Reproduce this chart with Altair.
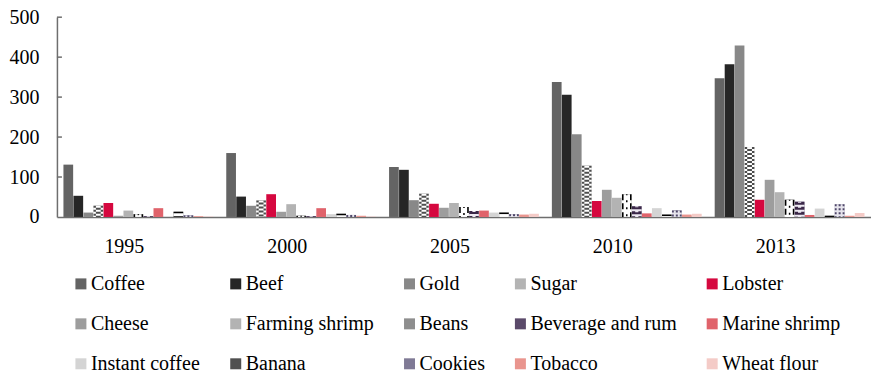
import altair as alt
import pandas as pd

# Export values (millions) by product and year
years = ["1995", "2000", "2005", "2010", "2013"]
products = ["Coffee", "Beef", "Gold", "Sugar", "Lobster",
            "Cheese", "Farming shrimp", "Beans", "Beverage and rum", "Marine shrimp",
            "Instant coffee", "Banana", "Cookies", "Tobacco", "Wheat flour"]

v1995 = [131, 53, 11, 28, 35, 3, 16, 7, 2, 22, 0, 13, 4, 2, 1]
v2000 = [160, 51, 28, 41, 57, 13, 32, 3, 2, 22, 7, 8, 5, 3, 1]
v2005 = [125, 118, 42, 58, 33, 23, 35, 25, 15, 16, 11, 11, 7, 6, 8]
v2010 = [338, 306, 207, 128, 40, 68, 48, 57, 27, 9, 22, 6, 16, 6, 8]
v2013 = [347, 382, 429, 175, 43, 93, 62, 43, 38, 5, 21, 3, 32, 3, 10]

y_ticks = [0, 100, 200, 300, 400, 500]

colors = ["#646464", "#262626", "#888888", "#b4b4b4", "#d5083f",
          "#9d9d9d", "#b3b3b3", "#8e8e8e", "#5b4a6a", "#e0636b",
          "#d4d4d4", "#505050", "#7f7a95", "#e9958e", "#f4cbc7"]

FONT = "Liberation Serif"
AXIS_GRAY = "#6e6e6e"

rows = []
for yr, vals in zip(years, [v1995, v2000, v2005, v2010, v2013]):
    for p, v in zip(products, vals):
        rows.append({"year": yr, "product": p, "value": v})
df = pd.DataFrame(rows)

x_enc = alt.X("year:N", sort=years, title=None,
              scale=alt.Scale(paddingInner=0, paddingOuter=0),
              axis=alt.Axis(labelAngle=0, ticks=False, labelFont=FONT, labelFontSize=20,
                            labelColor="#000000", labelPadding=20, labelOffset=-14,
                            domainColor=AXIS_GRAY, domainWidth=1.5))
xo_enc = alt.XOffset("product:N", sort=products,
                     scale=alt.Scale(paddingInner=0.03, paddingOuter=0.65))
y_enc = alt.Y("value:Q", title=None, scale=alt.Scale(domain=[0, 500]),
              axis=alt.Axis(values=y_ticks, ticks=False, grid=False, labelFont=FONT,
                            labelFontSize=20, labelColor="#000000", labelPadding=18,
                            domainColor=AXIS_GRAY, domainWidth=1.5))

bars = alt.Chart(df).mark_bar().encode(
    x=x_enc, xOffset=xo_enc, y=y_enc,
    color=alt.Color("product:N", sort=products,
                    scale=alt.Scale(domain=products, range=colors),
                    legend=alt.Legend(orient="none", legendX=14, legendY=257, columns=5,
                                      direction="horizontal", symbolType="square",
                                      symbolSize=121, symbolStrokeWidth=0,
                                      labelFont=FONT, labelFontSize=20, labelColor="#000000",
                                      labelOffset=0, columnPadding=25, rowPadding=20,
                                      title=None, padding=0, labelLimit=0)),
)

# Hatched fills: a light backing bar, then centred dashed strokes stacked
# from wide to narrow so the bands produce a texture: (width, colour, dash, dash offset)
patterns = {
    "Sugar": ("#ffffff", [(9.6, "#4d4d4d", [2, 2], 0), (4.8, "#ffffff", None, 0),
                          (4.8, "#4d4d4d", [2, 2], 2)]),
    "Beans": ("#ffffff", [(9.6, "#000000", [6, 3], 0), (6.4, "#ffffff", None, 0),
                          (1.5, "#000000", [2, 5], 1)]),
    "Beverage and rum": ("#ece8f0", [(9.6, "#3a2748", [3, 2], 0), (3.2, "#ece8f0", [2, 3], 1)]),
    "Banana": ("#ffffff", [(9.6, "#000000", [1.5, 3], 0)]),
    "Cookies": ("#e6e4ec", [(9.6, "#4e4668", [2, 2], 0), (6.0, "#e6e4ec", None, 0),
                            (2.0, "#4e4668", [2, 2], 0)]),
}

layers = [bars]
for name, (bg, strokes) in patterns.items():
    sub = alt.Chart(df).transform_filter(alt.datum.product == name)
    layers.append(sub.mark_bar(color=bg).encode(x=x_enc, xOffset=xo_enc, y=y_enc))
    for w, col, dash, off in strokes:
        props = dict(strokeWidth=w, color=col, strokeCap="butt")
        if dash:
            props.update(strokeDash=dash, strokeDashOffset=off)
        layers.append(
            sub.mark_rule(**props)
            .encode(x=x_enc, xOffset=xo_enc, y=y_enc, y2=alt.datum(0))
        )

# Inward tick marks on the value axis
tick_df = pd.DataFrame({"value": y_ticks[1:]})
ticks = alt.Chart(tick_df).mark_rule(color=AXIS_GRAY, strokeWidth=1.5).encode(
    x=alt.value(0), x2=alt.value(5), y=y_enc
)
layers.append(ticks)

chart = alt.layer(*layers).properties(
    width=815, height=200,
    padding={"left": 57, "top": 17, "right": 0, "bottom": 157},
    autosize=alt.AutoSizeParams(type="none"),
).configure(font=FONT).configure_view(stroke=None)

chart.save("out.html", embed_options={"renderer": "svg", "actions": False})
